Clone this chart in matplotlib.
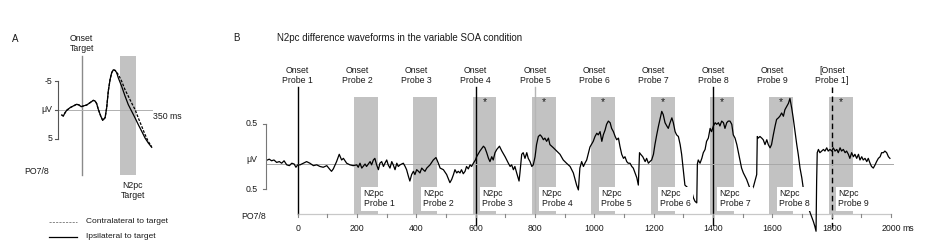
import matplotlib
matplotlib.use("Agg")
import matplotlib.pyplot as plt
import numpy as np

plt.rcParams['font.family'] = ['Liberation Sans', 'DejaVu Sans']

# ---------------- Panel A data ----------------
a_time = [-100, -92, -83, -75, -58, -42, -25, -13, -3, 8, 25, 42, 58, 67, 75, 83, 95, 105,
          117, 125, 133, 142, 150, 158, 167, 175, 183, 200, 217, 233, 250, 267, 283, 300,
          317, 333, 350]
a_shared = [0.87, 1.05, 0.46, 0.06, -0.41, -0.70, -1.0, -0.87, -0.58, -0.70, -0.87, -1.28,
            -1.68, -1.57, -1.1, -0.12, 1.05, 1.8, 1.34, -0.41, -3.31, -5.34, -6.5, -7.0,
            -6.9, -6.5]
a_ipsi_tail = [-5.6, -4.1, -2.4, -0.93, 0.23, 1.39, 2.55, 3.7, 4.9, 5.75, 6.5]
a_contra_tail = [-6.2, -5.0, -3.5, -2.4, -1.2, -0.06, 1.39, 2.84, 4.3, 5.5, 6.4]
a_ipsi = a_shared + a_ipsi_tail
a_contra = a_shared + a_contra_tail
a_window = (190, 270)
a_yticks = [-5, 0, 5]
a_yticklabels = ["-5", "\u03bcV", "5"]

# ---------------- Panel B data ----------------
b_time = [-102, -96, -88, -80, -71, -62, -54, -46, -37, -28, -20, -12, -6, 0,
          8, 19, 30, 41, 53, 64, 75, 86, 98, 109, 114, 120, 131, 140, 148, 154, 165, 176,
          187, 199, 204, 210, 216, 227, 232, 244, 249, 255, 260, 266, 272, 277, 283, 289,
          294, 300, 305, 311, 317, 322, 328, 334, 339, 345, 356, 362, 367, 373, 378, 384,
          390, 395, 401, 407, 412, 418, 423, 429, 435, 446, 457, 466, 474,
          480, 491, 502, 513, 519, 525, 530, 536, 541, 547, 552, 558, 564, 569, 575, 581,
          586, 592, 599, 603, 614, 626, 631, 637, 643, 648, 654, 659, 665, 671, 680, 688,
          699, 710, 716, 721, 727, 732, 738, 746, 749, 755, 760, 766, 772, 777, 783, 789,
          794, 800, 805, 811, 817, 822, 828, 833, 839, 845, 850, 856, 862, 873, 884, 895,
          906, 918, 929, 940, 946, 951, 957, 963, 968, 974, 985, 996, 1002,
          1008, 1013, 1019, 1025, 1030, 1036, 1041, 1047, 1053, 1058, 1064, 1070, 1075,
          1081, 1086, 1092, 1098, 1103, 1109, 1114, 1120, 1126, 1131, 1137, 1143, 1148,
          1152, 1156, 1163, 1171, 1176, 1182, 1187, 1193, 1199, 1204, 1210, 1216, 1221,
          1227, 1232, 1238, 1244, 1249, 1255, 1261, 1266, 1272, 1277, 1283, 1289, 1294,
          1300, 1305, 1311, 1317, 1322, 1328, 1334, 1339, 1345, 1347, 1350, 1356, 1362,
          1367, 1373, 1378, 1384, 1390, 1395, 1401, 1407, 1412, 1418, 1423, 1429, 1435,
          1440, 1446, 1451, 1457, 1463, 1468, 1474, 1480, 1491, 1496, 1502,
          1513, 1524, 1530, 1536, 1541, 1547, 1549, 1552, 1558, 1564, 1569, 1575, 1581,
          1586, 1592, 1597, 1603, 1609, 1614, 1620, 1625, 1631, 1637, 1642, 1648, 1654,
          1659, 1665, 1670, 1676, 1682, 1687, 1693, 1699, 1704, 1710, 1715, 1721, 1727,
          1732, 1738, 1743, 1747, 1749, 1751, 1755, 1760, 1766, 1772, 1777, 1783, 1788,
          1794, 1800, 1805, 1811, 1817, 1822, 1828, 1833, 1839, 1845, 1850, 1856, 1861,
          1867, 1873, 1878, 1884, 1890, 1895, 1901, 1906, 1912, 1918, 1923, 1929, 1934,
          1940, 1946, 1951, 1957, 1963, 1968, 1974, 1979, 1985, 1991, 1996]
b_amp = [-0.05, -0.06, -0.04, -0.05, -0.02, -0.03, -0.01, -0.04, 0.01, 0.02, -0.01, 0.00, 0.04, 0.01,
         0.01, -0.01, -0.03, -0.01, 0.02, 0.01, 0.03, 0.04, 0.02, 0.07, 0.09, 0.06, -0.03, -0.12,
         -0.05, -0.07, -0.01, 0.01, 0.02, 0.01, 0.04, -0.01, 0.05, 0.0, 0.03, -0.03, 0.01, -0.05,
         -0.07, 0.01, 0.07, -0.01, -0.03, 0.03, -0.01, -0.05, 0.01, 0.05, -0.03, 0.01, 0.07,
         -0.01, 0.03, 0.01, -0.01, 0.03, 0.07, 0.15, 0.21, 0.13, 0.09, 0.13, 0.07, 0.09, 0.11,
         0.05, 0.07, 0.09, 0.05, 0.01, -0.05, -0.08, -0.01,
         0.05, 0.07, 0.13, 0.23, 0.19, 0.13, 0.07, 0.11, 0.09, 0.11, 0.07, 0.12, 0.09, 0.03,
         0.06, 0.01, 0.03, -0.01, -0.05, -0.09, -0.16, -0.22, -0.20, -0.14, -0.07, -0.03,
         -0.09, -0.05, -0.14, -0.18, -0.22, -0.16, -0.09, -0.01, 0.03, 0.01, 0.07, 0.03, 0.11,
         0.21, 0.11, -0.12, -0.14, -0.07, -0.14, -0.07, -0.03, 0.03, 0.01, -0.09, -0.24, -0.34,
         -0.36, -0.34, -0.30, -0.32, -0.28, -0.32, -0.24, -0.22, -0.20, -0.16, -0.12, -0.05,
         -0.01, 0.03, 0.11, 0.26, 0.32, 0.05, -0.03, 0.03, -0.01, -0.05, -0.21, -0.28, -0.34,
         -0.38, -0.36, -0.40, -0.28, -0.36, -0.42, -0.49, -0.53, -0.51, -0.44, -0.40, -0.34,
         -0.30, -0.32, -0.22, -0.12, -0.07, -0.09, -0.03, -0.01, -0.01, 0.03, 0.05, 0.11, 0.17,
         0.26, -0.14, -0.12, -0.09, -0.03, -0.07, -0.01, -0.03, -0.05, -0.12, -0.24, -0.36,
         -0.47, -0.55, -0.65, -0.61, -0.51, -0.47, -0.44, -0.51, -0.57, -0.51, -0.40, -0.36,
         -0.34, -0.24, -0.12, 0.09, 0.26, 0.28, 0.30, 0.34, 0.34, 0.42, 0.46, 0.48, 0.0, -0.05,
         -0.01, -0.07, -0.14, -0.18, -0.28, -0.32, -0.44, -0.40, -0.47, -0.51, -0.49, -0.51,
         -0.47, -0.53, -0.51, -0.44, -0.51, -0.53, -0.53, -0.49, -0.36, -0.32, -0.24, -0.04,
         0.05, 0.11,
         0.19, 0.30, 0.32, 0.28, 0.21, 0.13, -0.34, -0.32, -0.34, -0.32, -0.30, -0.24, -0.30,
         -0.24, -0.20, -0.24, -0.36, -0.47, -0.55, -0.57, -0.59, -0.63, -0.59, -0.67, -0.71,
         -0.75, -0.81, -0.69, -0.57, -0.40, -0.24, -0.12, 0.05, 0.17, 0.30, 0.38, 0.46, 0.54,
         0.60, 0.65, 0.71, 0.77, 0.83, 0.21, -0.14, -0.18, -0.14, -0.16, -0.18, -0.16, -0.20,
         -0.16, -0.18, -0.16, -0.20, -0.16, -0.18, -0.14, -0.20, -0.16, -0.18, -0.14, -0.16,
         -0.12, -0.07, -0.14, -0.09, -0.12, -0.07, -0.12, -0.05, -0.09, -0.05, -0.07, -0.03,
         -0.07, -0.01, 0.03, 0.05, 0.01, -0.03, -0.07, -0.09, -0.14, -0.14, -0.16, -0.14,
         -0.09, -0.07]

onsets = [0, 200, 400, 600, 800, 1000, 1200, 1400, 1600, 1800]
onset_labels = ["Onset\nProbe 1", "Onset\nProbe 2", "Onset\nProbe 3", "Onset\nProbe 4",
                "Onset\nProbe 5", "Onset\nProbe 6", "Onset\nProbe 7", "Onset\nProbe 8",
                "Onset\nProbe 9", "[Onset\nProbe 1]"]
window_starts = [190, 390, 590, 790, 990, 1190, 1390, 1590, 1790]
window_len = 80
window_labels = ["N2pc\nProbe 1", "N2pc\nProbe 2", "N2pc\nProbe 3", "N2pc\nProbe 4",
                 "N2pc\nProbe 5", "N2pc\nProbe 6", "N2pc\nProbe 7", "N2pc\nProbe 8",
                 "N2pc\nProbe 9"]
significant = [False, False, True, True, True, True, True, True, True]
b_xticks = [0, 200, 400, 600, 800, 1000, 1200, 1400, 1600, 1800, 2000]
b_xticklabels = ["0", "200", "400", "600", "800", "1000", "1200", "1400", "1600", "1800", "2000"]
b_yticks = [-0.5, 0.31]
b_yticklabels = ["0.5", "0.5"]

TXT = '#1a1a1a'
GRAYBAR = '#c2c2c2'

fig = plt.figure(figsize=(9.26, 2.46), dpi=100)

# ---------- Panel A ----------
axA = fig.add_axes([0, 0, 230 / 926, 1])
axA.set_xlim(-408.5, 741.5)
axA.set_ylim(23.69, -19.16)
axA.axis('off')

axA.fill_between([a_window[0], a_window[1]], -9.4, 11.3, color=GRAYBAR, lw=0)
axA.plot([0, 0], [-9.4, 11.3], color='#8a8a8a', lw=1.0)
axA.plot([-112, 350], [0, 0], color='#b0b0b0', lw=0.7)
axA.plot(a_time, a_contra, color='black', lw=0.9, ls=(0, (2.2, 1.2)))
axA.plot(a_time, a_ipsi, color='black', lw=0.9)

# bracket axis
bx = -118
axA.plot([bx, bx], [a_yticks[0], a_yticks[-1]], color='#555555', lw=0.8)
for yt, lab in zip(a_yticks, a_yticklabels):
    axA.plot([bx - 16, bx], [yt, yt], color='#555555', lw=0.8)
    axA.text(bx - 28, yt, lab, fontsize=6.3, color=TXT, ha='right', va='center')

axA.text(0, -9.9, "Onset\nTarget", fontsize=6.3, color=TXT, ha='center', va='bottom',
         linespacing=1.1)
axA.text(356, 1.2, "350 ms", fontsize=6.3, color=TXT, ha='left', va='center')
axA.text(-223, 10.8, "PO7/8", fontsize=6.3, color=TXT, ha='center', va='center')
axA.text(256, 12.4, "N2pc\nTarget", fontsize=6.3, color=TXT, ha='center', va='top',
         linespacing=1.1)
axA.text(-333, -12.4, "A", fontsize=7, color=TXT, ha='center', va='center')

# legend
axA.plot([-163, -23], [19.46, 19.46], color='#888888', lw=0.7, ls=(0, (2.2, 1.2)))
axA.plot([-163, -23], [22.1, 22.1], color='black', lw=0.9)
axA.text(22, 19.46, "Contralateral to target", fontsize=6, color=TXT, ha='left', va='center')
axA.text(22, 22.1, "Ipsilateral to target", fontsize=6, color=TXT, ha='left', va='center')

# ---------- Panel B ----------
axB = fig.add_axes([230 / 926, 0, 696 / 926, 1])
x_lo, x_hi = -228.2, 2117.6
y_bot, y_top = 1.012, -2.025
axB.set_xlim(x_lo, x_hi)
axB.set_ylim(y_bot, y_top)
axB.axis('off')

axis_y = 0.617
bar_top = -0.83
for ws, lab, sig in zip(window_starts, window_labels, significant):
    axB.fill_between([ws, ws + window_len], bar_top, axis_y, color=GRAYBAR, lw=0)
    if sig:
        axB.text(ws + window_len / 2, -0.76, "*", fontsize=7.5, color=TXT, ha='center',
                 va='center')
    axB.text(ws + 32, 0.43, lab, fontsize=6.3, color=TXT, ha='left', va='center',
             linespacing=1.15,
             bbox=dict(facecolor='white', edgecolor='none', pad=1.6))

# onset lines
line_style = {0: ('black', '-', 0.617), 600: ('black', '-', 0.75), 800: ('#b5b5b5', '-', 0.617),
              1400: ('black', '-', 0.75), 1800: ('black', (0, (4, 2.5)), 0.8)}
for on, lab in zip(onsets, onset_labels):
    axB.text(on, -0.98, lab, fontsize=6.3, color=TXT, ha='center', va='bottom',
             linespacing=1.1)
    if on in line_style:
        c, ls, yend = line_style[on]
        axB.plot([on, on], [-0.95, yend], color=c, ls=ls, lw=1.0)

# baseline and time axis
axB.plot([-106, 2005], [0, 0], color='#a8a8a8', lw=0.7)
axB.plot([0, 2000], [axis_y, axis_y], color='#c8c8c8', lw=0.9)
for t in range(0, 2001, 100):
    axB.plot([t, t], [axis_y, axis_y + 0.04], color='#888888', lw=0.8)
for t, lab in zip(b_xticks, b_xticklabels):
    axB.text(t, 0.80, lab, fontsize=6.3, color=TXT, ha='center', va='center')
axB.text(2038, 0.80, "ms", fontsize=6.3, color=TXT, ha='left', va='center')

# waveform
axB.plot(b_time, b_amp, color='black', lw=0.9)

# bracket y axis
bx = -106
axB.plot([bx, bx], [b_yticks[0], b_yticks[-1]], color='#777777', lw=0.8)
for yt, lab in zip(b_yticks, b_yticklabels):
    axB.plot([bx - 11, bx], [yt, yt], color='#777777', lw=0.8)
    axB.text(-136, yt, lab, fontsize=6.3, color=TXT, ha='right', va='center')
axB.text(-136, -0.06, "\u03bcV", fontsize=6.3, color=TXT, ha='right', va='center')
axB.text(-147, 0.65, "PO7/8", fontsize=6.3, color=TXT, ha='center', va='center')

axB.text(-208, -1.556, "B", fontsize=7, color=TXT, ha='center', va='center')
axB.text(-71, -1.556, "N2pc difference waveforms in the variable SOA condition", fontsize=7,
         color=TXT, ha='left', va='center')

fig.savefig("out.png", dpi=100)
